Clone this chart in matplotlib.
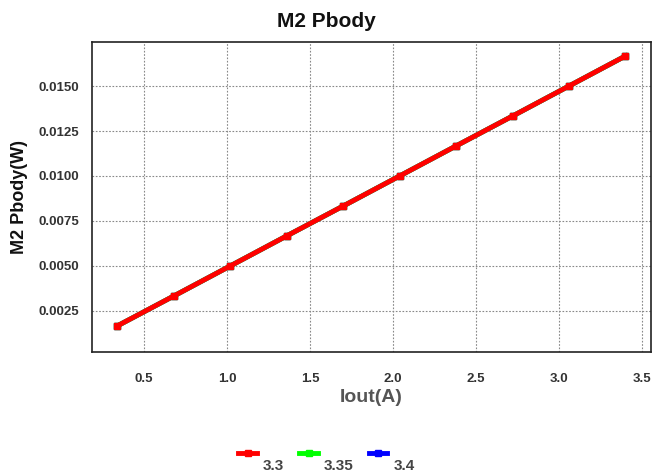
import matplotlib
matplotlib.use("Agg")
import matplotlib.pyplot as plt

plt.rcParams.update({
    "font.family": ["Liberation Sans", "DejaVu Sans"],
    "font.weight": "bold",
})

iout = [0.34, 0.68, 1.02, 1.36, 1.70, 2.04, 2.38, 2.72, 3.06, 3.40]
pbody = {
    "3.4": [0.00167, 0.00333, 0.00500, 0.00667, 0.00833, 0.01000, 0.01167, 0.01333, 0.01500, 0.01667],
    "3.35": [0.00167, 0.00333, 0.00500, 0.00667, 0.00833, 0.01000, 0.01167, 0.01333, 0.01500, 0.01667],
    "3.3": [0.00167, 0.00333, 0.00500, 0.00667, 0.00833, 0.01000, 0.01167, 0.01333, 0.01500, 0.01667],
}
colors = {"3.3": "#ff0000", "3.35": "#00ff00", "3.4": "#0000ff"}
xticks = [0.5, 1.0, 1.5, 2.0, 2.5, 3.0, 3.5]
yticks = [0.0025, 0.0050, 0.0075, 0.0100, 0.0125, 0.0150]

fig = plt.figure(figsize=(6.53, 4.76), dpi=100)
ax = fig.add_axes([0.1409, 0.2599, 0.856, 0.6512])

lines = {}
for name in ["3.4", "3.35", "3.3"]:
    lines[name], = ax.plot(iout, pbody[name], color=colors[name], lw=3.5,
                           marker="s", markersize=5, label=name)

ax.set_xlim(0.187, 3.554)
ax.set_ylim(0.0002, 0.01743)
ax.set_xticks(xticks)
ax.set_xticklabels([f"{t:.1f}" for t in xticks])
ax.set_yticks(yticks)
ax.set_yticklabels([f"{t:.4f}" for t in yticks])
ax.tick_params(length=0, pad=9, labelsize=9.5, labelcolor="#333333")
ax.tick_params(axis="x", pad=15)
ax.grid(True, linestyle=(0, (1.5, 1.5)), color="#888888", lw=0.8)
for s in ax.spines.values():
    s.set_linewidth(1.2)
    s.set_color("#222222")

ax.set_xlabel("Iout(A)", fontsize=14, fontweight="bold", color="#555555", labelpad=3)
ax.set_ylabel("M2 Pbody(W)", fontsize=13, fontweight="bold", color="#111111", labelpad=8)
fig.text(0.5, 0.955, "M2 Pbody", ha="center", va="center", fontsize=15,
         fontweight="bold", color="#111111")

order = ["3.3", "3.35", "3.4"]
leg = fig.legend([lines[n] for n in order], order, loc="center",
                 bbox_to_anchor=(0.5, 0.045), ncol=3, frameon=False,
                 handlelength=1.2, handletextpad=0.4, columnspacing=1.0,
                 fontsize=11)
for t in leg.get_texts():
    t.set_color("#444444")
    t.set_verticalalignment("top")

fig.savefig("out.png", dpi=100)
